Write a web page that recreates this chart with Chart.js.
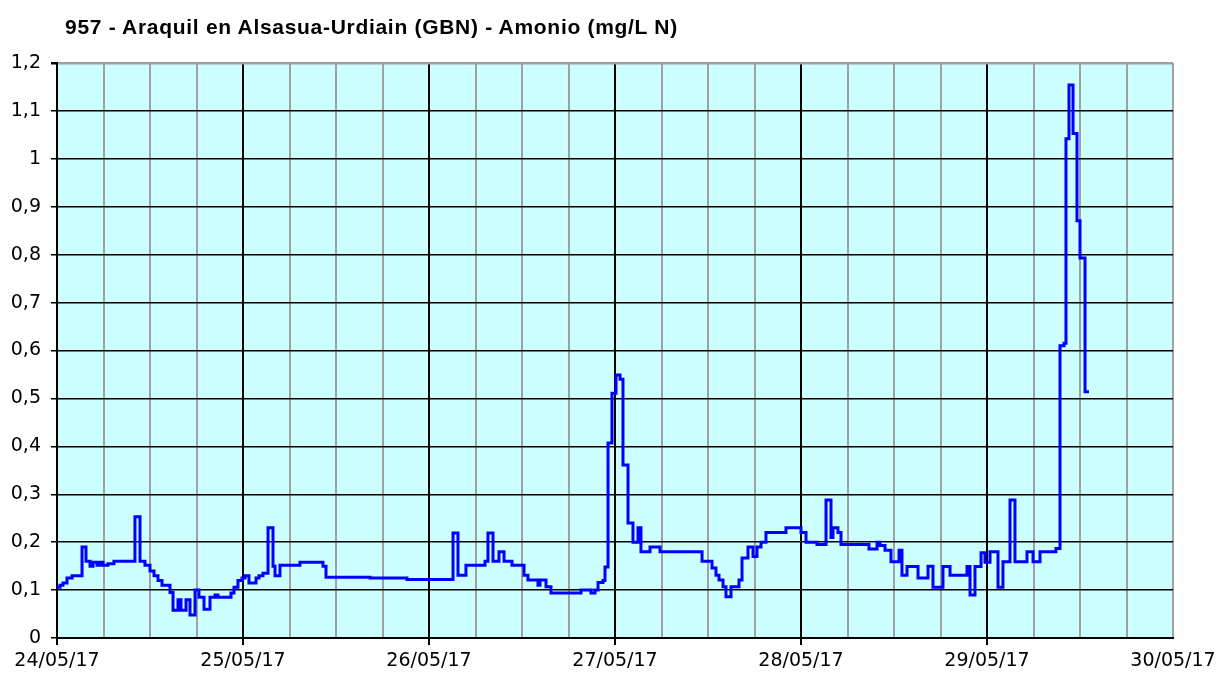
<!DOCTYPE html>
<html>
<head>
<meta charset="utf-8">
<script src="https://cdn.jsdelivr.net/npm/chart.js@4.4.1/dist/chart.umd.min.js"></script>
<style>
  html, body { margin: 0; padding: 0; background: #fff; }
  #wrap { position: relative; width: 1217px; height: 673px; }
  #titulo {
    position: absolute; left: 65px; top: 15px;
    font-family: "Liberation Sans", sans-serif;
    font-weight: bold; font-size: 21px; letter-spacing: 0.7px; color: #000; white-space: nowrap;
  }
</style>
</head>
<body>
<div id="wrap">
  <div id="titulo">957 - Araquil en Alsasua-Urdiain (GBN) - Amonio (mg/L N)</div>
  <canvas id="grafico" width="1217" height="673"></canvas>
</div>
<script>
// horas desde 24/05/17 00:00 y valor de amonio (mg/L N), lectura escalonada
const horas = [
  0, 0.39, 0.77, 1.29, 1.94, 3.23, 3.74, 4.26, 4.65, 5.16, 5.55, 5.94, 6.58, 7.35,
  10.06, 10.71, 11.35, 12.0, 12.52, 13.03, 13.55, 14.58, 14.97, 15.61, 16.0, 16.65,
  17.16, 17.81, 18.32, 18.97, 19.74, 20.39, 20.77, 22.45, 22.84, 23.35, 23.87, 24.26,
  24.77, 25.68, 26.06, 26.58, 27.23, 27.87, 28.13, 28.77, 31.35, 34.32, 34.71, 40.39,
  45.16, 51.1, 51.74, 52.77, 55.23, 55.61, 56.26, 57.03, 57.68, 58.71, 60.26, 60.77,
  62.06, 62.32, 63.1, 63.74, 67.61, 68.9, 69.42, 69.81, 70.45, 70.71, 71.1, 71.61,
  72.13, 72.65, 73.03, 73.68, 74.32, 74.97, 75.35, 76.52, 77.81, 83.23, 84.52, 85.03,
  85.42, 85.94, 86.32, 86.97, 88.0, 88.39, 89.16, 89.81, 90.32, 90.84, 91.48, 94.06,
  96.0, 96.65, 98.06, 99.23, 99.87, 100.13, 100.77, 101.16, 104.77, 105.81, 106.19,
  106.84, 107.61, 108.65, 109.03, 109.68, 111.1, 112.39, 113.03, 114.32, 115.23,
  117.42, 117.81, 118.45, 119.23, 119.74, 120.39, 121.42, 122.06, 122.97, 123.61,
  125.16, 125.94, 126.84, 128.9, 129.42, 129.94, 130.19, 130.58, 131.1, 131.61, 132.0,
  132.65, 133.16
];
const amonio = [
  0.106, 0.11, 0.115, 0.125, 0.13, 0.19, 0.16, 0.15, 0.158, 0.152, 0.158, 0.152, 0.155, 0.16,
  0.253, 0.16, 0.152, 0.14, 0.13, 0.12, 0.11, 0.095, 0.058, 0.08, 0.058, 0.08,
  0.048, 0.1, 0.085, 0.06, 0.085, 0.09, 0.085, 0.094, 0.106, 0.12, 0.125, 0.13,
  0.115, 0.125, 0.13, 0.135, 0.23, 0.15, 0.13, 0.152, 0.158, 0.15, 0.127, 0.125,
  0.122, 0.219, 0.131, 0.152, 0.16, 0.219, 0.16, 0.18, 0.16, 0.152, 0.131, 0.121,
  0.11, 0.121, 0.107, 0.094, 0.1, 0.094, 0.1, 0.116, 0.12, 0.148, 0.407, 0.511,
  0.549, 0.54, 0.361, 0.24, 0.2, 0.23, 0.18, 0.19, 0.18, 0.16, 0.146, 0.131,
  0.121, 0.107, 0.086, 0.107, 0.121, 0.167, 0.19, 0.17, 0.19, 0.2, 0.22, 0.23,
  0.22, 0.2, 0.195, 0.288, 0.21, 0.23, 0.22, 0.195, 0.186, 0.2, 0.193,
  0.183, 0.159, 0.183, 0.131, 0.149, 0.125, 0.15, 0.106, 0.149, 0.131,
  0.149, 0.09, 0.149, 0.178, 0.158, 0.18, 0.106, 0.159, 0.288, 0.159,
  0.18, 0.159, 0.18, 0.187, 0.61, 0.615, 1.042, 1.154, 1.053, 0.871, 0.793,
  0.514, 0.514
];
const etiquetasDias = ['24/05/17', '25/05/17', '26/05/17', '27/05/17', '28/05/17', '29/05/17', '30/05/17'];

const fondoArea = {
  id: 'fondoArea',
  beforeDraw(chart) {
    const { ctx, chartArea: a } = chart;
    ctx.save();
    ctx.fillStyle = '#CCFFFF';
    ctx.fillRect(a.left, a.top, a.right - a.left, a.bottom - a.top);
    ctx.restore();
  }
};

const fuente = { family: 'DejaVu Sans', size: 19 };
const gris = '#a0a0a0';

new Chart(document.getElementById('grafico'), {
  type: 'line',
  data: {
    datasets: [{
      data: horas.map((h, i) => ({ x: h, y: amonio[i] })),
      borderColor: '#0000FF',
      borderWidth: 3,
      pointRadius: 0,
      stepped: true,
      fill: false
    }]
  },
  options: {
    responsive: false,
    animation: false,
    layout: { padding: { top: 63, right: 44, left: 0, bottom: 0 } },
    plugins: { legend: { display: false }, tooltip: { enabled: false } },
    scales: {
      x: {
        type: 'linear',
        min: 0, max: 144,
        afterBuildTicks: s => {
          // una línea cada 6 horas
          const t = [];
          for (let h = 0; h <= 144; h += 6) t.push({ value: h });
          s.ticks = t;
        },
        ticks: {
          autoSkip: false,
          maxRotation: 0,
          color: '#000',
          font: fuente,
          padding: 5,
          callback: v => (v % 24 === 0 ? etiquetasDias[v / 24] : '')
        },
        grid: {
          color: c => (c.tick.value === 144 ? gris : (c.tick.value % 24 === 0 ? '#000' : gris)),
          tickColor: c => (c.tick.value % 24 === 0 && c.tick.value !== 144 ? '#000' : 'rgba(0,0,0,0)'),
          lineWidth: 2,
          tickLength: 7
        },
        border: { display: true, color: '#000', width: 2 },
        afterFit: s => { s.height = 35; s.paddingRight = 0; s.paddingLeft = 0; }
      },
      y: {
        min: 0, max: 1.2,
        ticks: {
          stepSize: 0.1,
          color: '#000',
          font: fuente,
          padding: 10,
          callback: v => {
            const r = Math.round(v * 10) / 10;
            return String(r).replace('.', ',');
          }
        },
        grid: {
          color: c => (Math.round(c.tick.value * 10) === 12 ? gris : '#000'),
          tickColor: '#000',
          lineWidth: c => (Math.round(c.tick.value * 10) === 12 ? 2.5 : 1.5),
          tickLength: 6
        },
        border: { display: true, color: '#000', width: 2 },
        afterFit: s => { s.width = 57; }
      }
    }
  },
  plugins: [fondoArea]
});
</script>
</body>
</html>
